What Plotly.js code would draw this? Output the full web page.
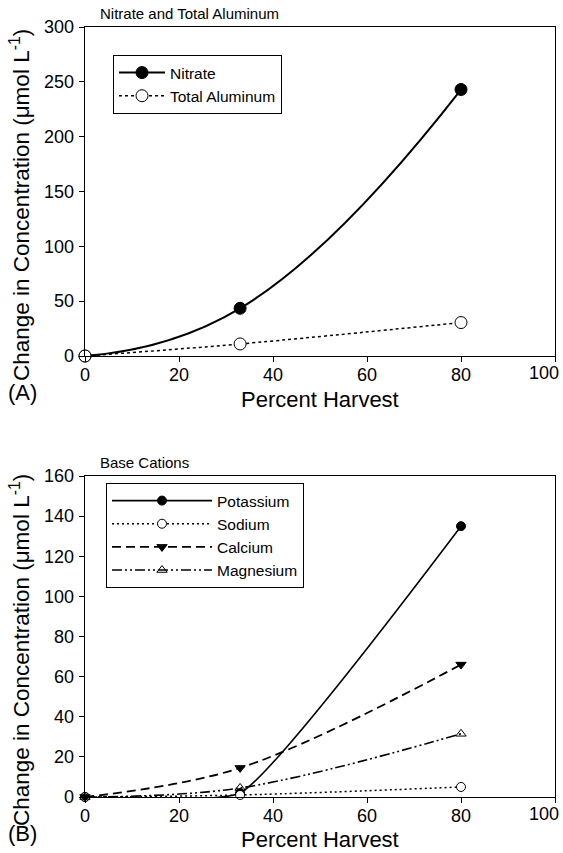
<!DOCTYPE html>
<html><head><meta charset="utf-8">
<script src="https://cdn.plot.ly/plotly-3.0.1.min.js"></script>
<style>html,body{margin:0;padding:0;background:#fff}#chart{width:563px;height:853px}</style>
</head><body><div id="chart"></div>
<script>
// Data
const harvest = [0, 33, 80];
const nitrate = [0, 43.5, 243];
const aluminum = [0, 11, 30.5];
const potassium = [0, 2, 135];
const sodium = [0, 1, 5];
const calcium = [0, 14.5, 66];
const magnesium = [0, 4.5, 31.5];
const xTicks = [0, 20, 40, 60, 80, 100];
const xTickText = ['0', '20', '40', '60', '80', '100'];
const yTicksA = [0, 50, 100, 150, 200, 250, 300];
const yTicksB = [0, 20, 40, 60, 80, 100, 120, 140, 160];
const panelTitles = ['Nitrate and Total Aluminum', 'Base Cations'];
const panelLabels = ['(A)', '(B)'];
const xTitle = 'Percent Harvest';
const yTitle = 'Change in Concentration (\u03bcmol L<sup>-1</sup>)';

const FONT = 'Liberation Sans, Arial, Helvetica, sans-serif';
const W = 563, H = 853;
const px = v => v / W;
const py = v => 1 - v / H;

function tr(name, y, xa, ya, legend, dash, width, symbol, fill, size, smooth) {
  return {
    x: harvest, y: y, name: name, type: 'scatter', mode: 'lines+markers',
    xaxis: xa, yaxis: ya, legend: legend, cliponaxis: false,
    line: {color: '#000', width: width, dash: dash, shape: 'spline', smoothing: smooth},
    marker: {symbol: symbol, size: size, color: fill, line: {color: '#000', width: 1}}
  };
}

const data = [
  tr('Nitrate', nitrate, 'x', 'y', 'legend', 'solid', 2, 'circle', '#000', 12, 1.3),
  tr('Total Aluminum', aluminum, 'x', 'y', 'legend', 'dot', 1.5, 'circle', '#fff', 12, 1),
  tr('Potassium', potassium, 'x2', 'y2', 'legend2', 'solid', 1.6, 'circle', '#000', 9, 0.4),
  tr('Sodium', sodium, 'x2', 'y2', 'legend2', '2px,3px', 1.5, 'circle', '#fff', 9, 1),
  tr('Calcium', calcium, 'x2', 'y2', 'legend2', '9px,5px', 1.8, 'triangle-down', '#000', 9, 1),
  tr('Magnesium', magnesium, 'x2', 'y2', 'legend2', '10px,3px,2px,3px,2px,3px', 1.6, 'triangle-up-open', '#000', 9, 1)
];

const axisCommon = {
  showline: true, linecolor: '#000', linewidth: 1.3, mirror: true,
  ticks: 'outside', ticklen: 5, tickwidth: 1, tickcolor: '#000',
  showgrid: false, zeroline: false, fixedrange: true,
  tickfont: {family: FONT, size: 18, color: '#000'}
};
const xDom = [px(85), px(555)];
// last label is drawn as an annotation below, right-aligned like the reference
const xExtra = {range: [0, 100], tickvals: xTicks, ticktext: xTickText.slice(0, 5).concat(['']),
  ticklabelstandoff: -3, domain: xDom};

const ann = (text, x, y, xa, ya, size, extra) => Object.assign({
  text: text, x: x, y: y, xref: 'paper', yref: 'paper', xanchor: xa, yanchor: ya,
  showarrow: false, font: {family: FONT, size: size, color: '#000'}
}, extra || {});

const layout = {
  width: W, height: H, margin: {l: 0, r: 0, t: 0, b: 0},
  paper_bgcolor: '#fff', plot_bgcolor: '#fff', showlegend: true,
  xaxis: Object.assign({}, axisCommon, xExtra, {anchor: 'y'}),
  yaxis: Object.assign({}, axisCommon, {domain: [py(356), py(27)], range: [0, 300], tickvals: yTicksA, anchor: 'x', ticklabelstandoff: 1}),
  xaxis2: Object.assign({}, axisCommon, xExtra, {anchor: 'y2'}),
  yaxis2: Object.assign({}, axisCommon, {domain: [py(797), py(476)], range: [0, 160], tickvals: yTicksB, anchor: 'x2', ticklabelstandoff: 1}),
  legend: {x: px(113), y: py(55), xanchor: 'left', yanchor: 'top', bgcolor: '#fff',
    bordercolor: '#000', borderwidth: 1, itemwidth: 46, tracegroupgap: 0,
    font: {family: FONT, size: 15.5, color: '#000'}},
  legend2: {x: px(106), y: py(483), xanchor: 'left', yanchor: 'top', bgcolor: '#fff',
    bordercolor: '#000', borderwidth: 1, itemwidth: 100, tracegroupgap: 0,
    font: {family: FONT, size: 15.5, color: '#000'}},
  annotations: [
    ann(panelTitles[0], px(98), py(14), 'left', 'middle', 15),
    ann(panelTitles[1], px(98), py(462), 'left', 'middle', 15),
    ann(panelLabels[0], px(6), py(392), 'left', 'middle', 22),
    ann(panelLabels[1], px(6), py(833), 'left', 'middle', 22),
    ann(xTitle, px(320), py(399), 'center', 'middle', 22),
    ann(xTitle, px(320), py(839), 'center', 'middle', 22),
    ann(yTitle, px(20), py(205), 'center', 'middle', 22.5, {textangle: -90}),
    ann(yTitle, px(20), py(650), 'center', 'middle', 22.5, {textangle: -90}),
    ann(xTickText[5], xTicks[5], py(373), 'right', 'middle', 18, {xref: 'x', xshift: 6}),
    ann(xTickText[5], xTicks[5], py(814), 'right', 'middle', 18, {xref: 'x2', xshift: 6})
  ]
};

Plotly.newPlot('chart', data, layout, {staticPlot: true, displayModeBar: false});
</script>
</body></html>
